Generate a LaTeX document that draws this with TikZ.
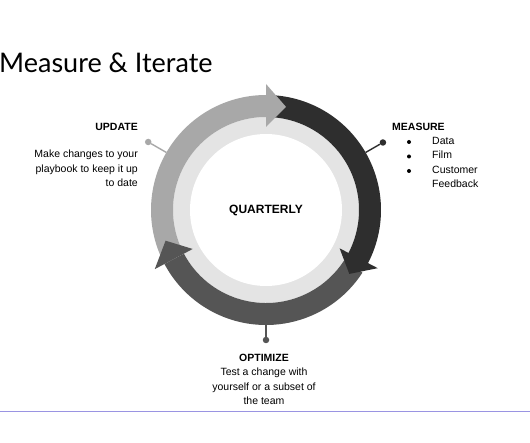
\documentclass[tikz,border=0pt]{standalone}
\usepackage{fontspec}
\setmainfont{Liberation Sans}
\newfontfamily\titlefont{Lato}
\usetikzlibrary{positioning}
\definecolor{Svijetla}{HTML}{A8A8A8}
\definecolor{Tamna}{HTML}{2E2E2E}
\definecolor{Srednja}{HTML}{555555}
\definecolor{Prsten}{HTML}{E4E4E4}
\definecolor{Linija}{HTML}{9A94E2}
\def\Rout{115pt}\def\Rin{93pt}\def\Rmid{105pt}\def\Rhi{126pt}\def\Rlo{83pt}
% band of the ring: colour, from angle, to angle
\newcommand{\ringband}[3]{%
  \fill[#1] (#2:\Rout) arc[start angle=#2, end angle=#3, radius=\Rout]
            -- (#3:\Rin) arc[start angle=#3, end angle=#2, radius=\Rin] -- cycle;}
% arrow head: colour, base angle, tip angle
\newcommand{\ringhead}[3]{%
  \fill[#1] (#2:\Rhi) -- (#3:\Rmid) -- (#2:\Rlo) -- cycle;}
\tikzset{
  heading/.style = {font=\bfseries\fontsize{10.5}{12}\selectfont, inner sep=0pt},
  body/.style    = {font=\fontsize{10.5}{14.5}\selectfont, inner sep=0pt},
  pindot/.style  = {circle, inner sep=0pt, minimum size=6.5pt},
  pinline/.style = {line width=1.4pt},
  bul/.style     = {circle, fill=black, inner sep=0pt, minimum size=4pt},
}

\begin{document}
\begin{tikzpicture}[x=1pt, y=1pt]
  \useasboundingbox (0,0) rectangle (530,442);
  \fill[white] (0,0) rectangle (530,442);

  % --- title ---
  \node[anchor=base west, inner sep=0pt, font=\titlefont\fontsize{27}{28}\selectfont]
        at (-1,369) (title) {Measure \& Iterate};

  % --- ring ---
  \begin{scope}[shift={(266,232)}]
    \fill[Prsten] (0,0) circle[radius=\Rin];
    \fill[white]  (0,0) circle[radius=76pt];
    \ringband{Svijetla}{203}{90}
    \ringband{Tamna}{86}{-28}
    \ringband{Srednja}{-33}{-152}
    \ringhead{Svijetla}{90}{79}
    \ringhead{Tamna}{-27.5}{-37.5}
    \ringhead{Srednja}{208}{197}
    \coordinate (updring)  at (150:\Rout);
    \coordinate (measring) at (30:\Rout);
    \coordinate (optring)  at (270:\Rout);
    \node[pindot, fill=Svijetla] at (150:136pt) (upddot) {};
    \node[pindot, fill=Tamna]    at (30:135pt)  (measdot) {};
    \node[pindot, fill=Srednja]  at (270:130pt) (optdot) {};
  \end{scope}
  \draw[pinline, Svijetla] (updring) -- (upddot);
  \draw[pinline, Tamna]    (measring) -- (measdot);
  \draw[pinline, Srednja]  (optring) -- (optdot);

  \node[font=\bfseries\fontsize{12}{14}\selectfont] at (266,232) (quart) {QUARTERLY};

  % --- update ---
  \node[heading, anchor=east] at (138,315) (upd) {UPDATE};
  \node[body, anchor=north east, align=right] at (138,292) (updtxt)
        {Make changes to your\\playbook to keep it up\\to date};

  % --- measure ---
  \node[heading, anchor=west] at (392,315) (meas) {MEASURE};
  \node[bul] at (409,300) (b1) {};
  \node[bul] at (409,285.5) (b2) {};
  \node[bul] at (409,271) (b3) {};
  \node[body, anchor=north west, align=left] at (432,305) (meastxt)
        {Data\\Film\\Customer\\Feedback};

  % --- optimize ---
  \node[heading] at (264,84) (opt) {OPTIMIZE};
  \node[body, anchor=north, align=center] at (264,74) (opttxt)
        {Test a change with\\yourself or a subset of\\the team};

  \draw[Linija, line width=1pt] (0,31) -- (530,31);
\end{tikzpicture}
\end{document}
